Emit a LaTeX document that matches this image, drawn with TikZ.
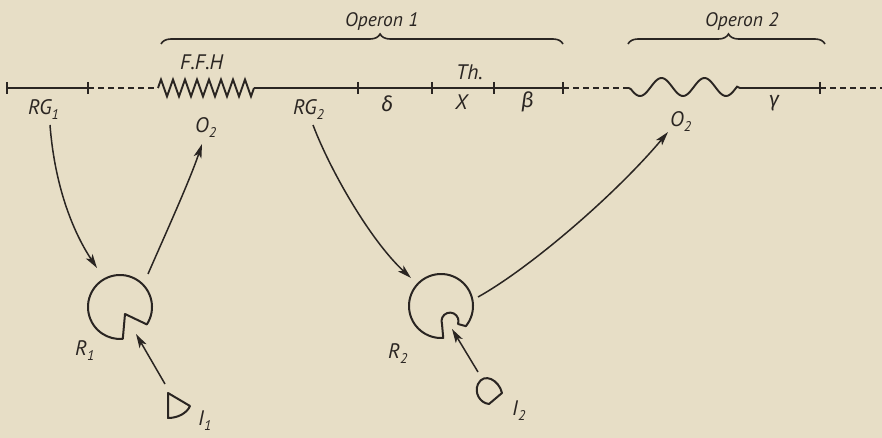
\documentclass[tikz,border=0pt]{standalone}
\usepackage{fontspec}
\setmainfont{PT Sans}
\newfontfamily\grk{Fira Sans}
\usetikzlibrary{arrows.meta,decorations.pathreplacing,decorations.pathmorphing}
\definecolor{paper}{HTML}{E7DEC6}
\definecolor{ink}{HTML}{2A2522}
\newcommand\labfont{\fontsize{21}{24}\selectfont\itshape}
\newcommand\opfont{\fontsize{19.5}{22}\selectfont\itshape}
\newcommand\sbx[1]{\raisebox{-5pt}{\fontsize{14}{16}\selectfont #1}}
\begin{document}
\begin{tikzpicture}[x=1pt,y=1pt,
  lab/.style={anchor=base west, inner sep=0pt, text=ink, font=\labfont},
  chrom/.style={draw=ink, line width=1.9pt},
  dashline/.style={draw=ink, line width=1.4pt, dash pattern=on 6pt off 4pt},
  tickmark/.style={draw=ink, line width=1.5pt},
  arr/.style={draw=ink, line width=1.5pt, -{Stealth[length=14pt,width=8pt,inset=3.5pt]}},
  shapeline/.style={draw=ink, line width=2pt, line join=round},
  bracestyle/.style={draw=ink, line width=1.6pt, decorate, decoration={brace, amplitude=10pt, aspect=#1}},
]
\fill[paper] (0,0) rectangle (882,-438);
\useasboundingbox (0,0) rectangle (882,-438);

% chromosome line
\draw[chrom] (7,-88) -- (88,-88);
\draw[dashline] (88,-88) -- (158,-88);
\draw[chrom, line join=miter, decorate, decoration={zigzag, segment length=12pt, amplitude=8.5pt}] (158,-88) -- (254,-88);
\draw[chrom] (254,-88) -- (563,-88);
\draw[dashline] (563,-88) -- (629,-88);
\draw[chrom] (629,-88) -- plot[domain=631:737, samples=70, smooth] (\x, {-87-9*cos(8.372*(\x-640))}) -- (740,-88) -- (820,-88);
\draw[dashline] (820,-88) -- (882,-88);
\foreach \t in {7,88,358,432,494,563,820} \draw[tickmark] (\t,-82) -- (\t,-94);

% braces
\draw[bracestyle=0.545] (161,-44) -- (563,-44);
\draw[bracestyle=0.51] (628,-44) -- (825,-44);
\node[lab, font=\opfont] (opone) at (345,-27) {Operon 1};
\node[lab, font=\opfont] (optwo) at (705,-27) {Operon 2};

% labels
\node[lab] (rgone) at (28,-115) {RG\sbx{1}};
\node[lab] (ffh) at (180,-70) {F.F.H};
\node[lab] (otwoa) at (195,-133) {O\sbx{2}};
\node[lab] (rgtwo) at (293,-115) {RG\sbx{2}};
\node[lab] (delta) at (381,-112) {\grk\itshape δ};
\node[lab] (thlab) at (456,-80) {Th.};
\node[lab] (xlab) at (455,-110) {X};
\node[lab] (beta) at (521,-108) {\grk\itshape β};
\node[lab] (otwob) at (670,-127) {O\sbx{2}};
\node[lab] (gamma) at (769,-107) {\grk\itshape γ};
\node[lab] (rone) at (75,-355) {R\sbx{1}};
\node[lab] (ione) at (198,-425) {I\sbx{1}};
\node[lab] (rtwo) at (388,-358) {R\sbx{2}};
\node[lab] (itwo) at (512,-415) {I\sbx{2}};

% repressors and inducers
\coordinate (r1) at (120,-307);
\coordinate (r2) at (441,-306);
\draw[shapeline] (r1) ++(-33:32) arc[start angle=-33, end angle=275, radius=32] -- (125,-314) -- cycle;
\draw[shapeline] (r2) ++(-39:32) arc[start angle=-39, end angle=274, radius=32] -- (442,-324) arc[start angle=200, end angle=-20, radius=8.5] -- cycle;
\draw[shapeline] (168,-393) -- (190,-406) .. controls (187,-413) and (178,-418) .. (168,-418) -- cycle;
\draw[shapeline] (502,-393) .. controls (499,-380) and (484,-372) .. (478,-384) .. controls (474,-393) and (480,-403) .. (489,-404) -- cycle;

% arrow ends
\coordinate (a1s) at (50,-125);
\coordinate (a1e) at (97,-268);
\coordinate (a2s) at (148,-274);
\coordinate (a2e) at (202,-144);
\coordinate (a3s) at (313,-125);
\coordinate (a3e) at (411,-278);
\coordinate (a4s) at (478,-297);
\coordinate (a4e) at (668,-132);
\coordinate (a5s) at (165,-384);
\coordinate (a5e) at (136,-334);
\coordinate (a6s) at (478,-372);
\coordinate (a6e) at (452,-329);

\draw[arr] (a1s) .. controls (55,-190) and (75,-235) .. (a1e);
\draw[arr] (a2s) .. controls (165,-235) and (190,-180) .. (a2e);
\draw[arr] (a3s) .. controls (330,-170) and (370,-240) .. (a3e);
\draw[arr] (a4s) .. controls (530,-268) and (615,-195) .. (a4e);
\draw[arr] (a5s) -- (a5e);
\draw[arr] (a6s) -- (a6e);
\end{tikzpicture}
\end{document}
